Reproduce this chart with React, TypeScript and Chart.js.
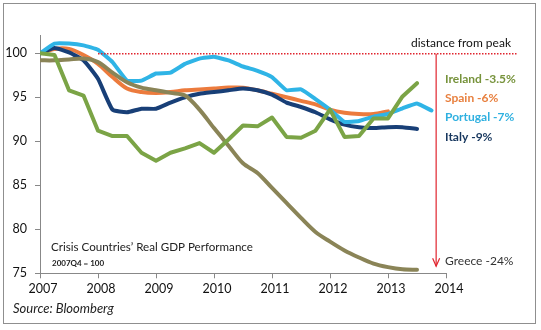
import React, { useEffect, useRef } from "react";
import { Chart, registerables } from "chart.js";

Chart.register(...registerables);

// Quarterly observations (x position in years)
const quarters = [
  2007.0, 2007.25, 2007.5, 2007.75, 2008.0, 2008.25, 2008.5, 2008.75,
  2009.0, 2009.25, 2009.5, 2009.75, 2010.0, 2010.25, 2010.5, 2010.75,
  2011.0, 2011.25, 2011.5, 2011.75, 2012.0, 2012.25, 2012.5, 2012.75,
  2013.0, 2013.25, 2013.5, 2013.75,
];

// Real GDP index, 2007Q4 = 100
const ireland = [100, 99.8, 95.8, 95.2, 91.2, 90.6, 90.6, 88.7, 87.8, 88.7, 89.2, 89.8, 88.7, 90.2, 91.8, 91.7, 92.7, 90.5, 90.4, 91.2, 93.6, 90.5, 90.6, 92.6, 92.6, 95.1, 96.6];
const spain = [100, 100.5, 100.5, 99.8, 98.8, 97.3, 96.0, 95.6, 95.5, 95.6, 95.8, 95.9, 96.0, 96.1, 96.1, 95.8, 95.4, 95.0, 94.6, 94.2, 93.6, 93.25, 93.1, 93.1, 93.4];
const portugal = [100, 101.1, 101.1, 100.9, 100.4, 99.0, 96.9, 96.9, 97.7, 97.8, 98.8, 99.4, 99.6, 99.2, 98.5, 98.0, 97.3, 95.8, 95.9, 94.8, 93.6, 92.2, 92.3, 92.8, 93.1, 93.75, 94.3, 93.5];
const italy = [100, 100.6, 100.1, 99.2, 97.1, 93.6, 93.3, 93.7, 93.7, 94.4, 95.0, 95.4, 95.6, 95.8, 96.0, 95.8, 95.3, 94.4, 93.9, 93.3, 92.5, 91.9, 91.6, 91.5, 91.6, 91.6, 91.4];
const greece = [99.2, 99.2, 99.3, 99.4, 99.0, 97.8, 96.7, 96.1, 95.8, 95.5, 95.2, 93.6, 91.5, 89.5, 87.5, 86.4, 84.7, 83.0, 81.3, 79.7, 78.6, 77.6, 76.8, 76.1, 75.7, 75.45, 75.4];

const xTicks = [2007, 2008, 2009, 2010, 2011, 2012, 2013, 2014];
const yTicks = [75, 80, 85, 90, 95, 100];

const seriesNames = ["Ireland", "Greece", "Portugal", "Italy", "Spain"];
const seriesLabels = ["Ireland -3.5%", "Greece -24%", "Portugal -7%", "Italy -9%", "Spain -6%"];
// vertical position (in index units) of each right-hand label
const labelLevels = [97.05, 76.4, 92.7, 90.5, 94.9];

const peakLevel = 100;
const peakLineStart = 2008;
const peakLineEnd = 2015.24;
const arrowX = 2013.83;
const arrowBottom = 75.8;

const FONT = "Lato, 'Open Sans', sans-serif";

function pts(vals: number[]) {
  return vals.map((v, i) => ({ x: quarters[i], y: v }));
}

const lineColors: Record<string, string> = {
  Ireland: "#7BA446",
  Greece: "#8A8457",
  Portugal: "#2FB4E6",
  Italy: "#183F77",
  Spain: "#EC7B3D",
};
const textColors: Record<string, string> = {
  Ireland: "#77933C",
  Greece: "#333333",
  Portugal: "#2FB0E0",
  Italy: "#17375E",
  Spain: "#E8803F",
};
const smooth: Record<string, number> = {
  Ireland: 0,
  Greece: 0.3,
  Portugal: 0.1,
  Italy: 0.15,
  Spain: 0.3,
};

const annotPlugin = {
  id: "annot",
  beforeDraw(chart: any) {
    const { ctx, width, height } = chart;
    ctx.save();
    ctx.fillStyle = "#ffffff";
    ctx.fillRect(0, 0, width, height);
    ctx.restore();
  },
  afterDraw(chart: any) {
    const { ctx, chartArea } = chart;
    const xs = chart.scales.x;
    const ys = chart.scales.y;
    ctx.save();

    // dotted peak line
    const py = ys.getPixelForValue(peakLevel) + 0.5;
    ctx.strokeStyle = "#E0242E";
    ctx.lineWidth = 1.5;
    ctx.setLineDash([1.5, 1.5]);
    ctx.beginPath();
    ctx.moveTo(xs.getPixelForValue(peakLineStart), py);
    ctx.lineTo(xs.getPixelForValue(peakLineEnd), py);
    ctx.stroke();

    // vertical arrow
    ctx.setLineDash([]);
    ctx.lineWidth = 1.2;
    const ax = xs.getPixelForValue(arrowX);
    const ab = ys.getPixelForValue(arrowBottom);
    ctx.beginPath();
    ctx.moveTo(ax, py);
    ctx.lineTo(ax, ab);
    ctx.stroke();
    ctx.beginPath();
    ctx.moveTo(ax - 3.5, ab - 8);
    ctx.lineTo(ax, ab);
    ctx.lineTo(ax + 3.5, ab - 8);
    ctx.stroke();

    // distance from peak
    ctx.fillStyle = "#111";
    ctx.font = `12px ${FONT}`;
    ctx.textBaseline = "middle";
    ctx.textAlign = "left";
    ctx.fillText("distance from peak", 411, ys.getPixelForValue(101.1));

    // series labels
    seriesNames.forEach((n, i) => {
      ctx.fillStyle = textColors[n];
      ctx.font = n === "Greece" ? `12px ${FONT}` : `bold 12px ${FONT}`;
      ctx.fillText(seriesLabels[i], chartArea.right - 1, ys.getPixelForValue(labelLevels[i]));
    });

    // title
    ctx.fillStyle = "#222";
    ctx.font = `11.6px ${FONT}`;
    ctx.fillText("Crisis Countries\u2019 Real GDP Performance", 51, 247.5);
    ctx.font = `bold 8px ${FONT}`;
    ctx.fillText("2007Q4 = 100", 52, 263);

    // source
    ctx.font = `italic 13px ${FONT}`;
    ctx.fillStyle = "#222";
    ctx.fillText("Source: Bloomberg", 13, 308.5);

    // frame
    ctx.strokeStyle = "#8f8f8f";
    ctx.lineWidth = 1;
    ctx.strokeRect(3.5, 3.5, 532, 320);
    ctx.restore();
  },
};

export default function App() {
  const ref = useRef<HTMLCanvasElement | null>(null);

  useEffect(() => {
    if (!ref.current) return;
    const datasets = seriesNames.map((n) => {
      const vals =
        n === "Ireland" ? ireland : n === "Greece" ? greece : n === "Portugal" ? portugal : n === "Italy" ? italy : spain;
      return {
        label: n,
        data: pts(vals),
        borderColor: lineColors[n],
        backgroundColor: lineColors[n],
        borderWidth: 4,
        pointRadius: 0,
        tension: smooth[n],
        fill: false,
        borderJoinStyle: "round" as const,
        borderCapStyle: "round" as const,
      };
    });

    const chart = new Chart(ref.current, {
      type: "line",
      data: { datasets },
      plugins: [annotPlugin],
      options: {
        animation: false,
        responsive: false,
        devicePixelRatio: 1,
        layout: { padding: { top: 35.7, right: 95, bottom: 20, left: 0 } },
        plugins: { legend: { display: false }, tooltip: { enabled: false } },
        scales: {
          x: {
            type: "linear",
            min: xTicks[0],
            max: xTicks[xTicks.length - 1],
            afterBuildTicks: (s: any) => {
              s.ticks = xTicks.map((v) => ({ value: v }));
            },
            afterFit: (s: any) => {
              s.height = 330 - 20 - 273.3;
            },
            grid: { display: true, drawOnChartArea: false, drawTicks: true, tickLength: 5, color: "#888" },
            border: { display: true, color: "#888", width: 1 },
            ticks: {
              color: "#111",
              font: { family: FONT, size: 12.5 },
              padding: 3,
              labelOffset: 3,
              maxRotation: 0,
              autoSkip: false,
              callback: (v: any) => String(v),
            },
          },
          y: {
            min: 75,
            max: 102,
            afterBuildTicks: (s: any) => {
              s.ticks = yTicks.map((v) => ({ value: v }));
            },
            afterFit: (s: any) => {
              s.width = 40;
            },
            grid: { display: true, drawOnChartArea: false, drawTicks: true, tickLength: 5, color: "#888" },
            border: { display: true, color: "#888", width: 1 },
            ticks: {
              color: "#111",
              font: { family: FONT, size: 12.5 },
              padding: 8,
              callback: (v: any) => String(v),
            },
          },
        },
      },
    });
    return () => chart.destroy();
  }, []);

  return (
    <div style={{ position: "fixed", left: 0, top: 0, width: 541, height: 330, background: "#fff" }}>
      <canvas ref={ref} width={541} height={330} style={{ width: 541, height: 330, display: "block" }} />
    </div>
  );
}
